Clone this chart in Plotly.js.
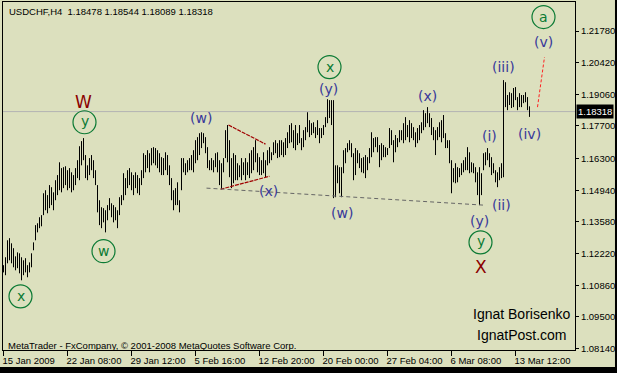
<!DOCTYPE html>
<html><head><meta charset="utf-8">
<script src="https://cdn.plot.ly/plotly-3.0.1.min.js"></script>
<style>html,body{margin:0;padding:0;background:#dce0be;}#chart{width:617px;height:373px;}</style>
</head><body><div id="chart"></div>
<script>
// ---- data (USDCHF H4, one value per bar) ----
const barHigh = [
1.1172,1.1206,1.1279,1.1288,1.1266,1.1245,1.1210,1.1227,1.1223,1.1206,
1.1193,1.1202,1.1172,1.1184,1.1223,1.1270,1.1344,1.1352,1.1378,1.1387,
1.1481,1.1494,1.1473,1.1516,1.1507,1.1485,1.1537,1.1559,1.1614,1.1589,
1.1593,1.1597,1.1580,1.1589,1.1571,1.1559,1.1589,1.1623,1.1683,1.1705,
1.1718,1.1645,1.1601,1.1632,1.1645,1.1623,1.1580,1.1516,1.1451,1.1421,
1.1417,1.1408,1.1430,1.1460,1.1438,1.1430,1.1421,1.1408,1.1464,1.1473,
1.1567,1.1546,1.1580,1.1589,1.1571,1.1559,1.1571,1.1559,1.1546,1.1580,
1.1653,1.1645,1.1666,1.1653,1.1675,1.1679,1.1675,1.1666,1.1653,1.1636,
1.1632,1.1657,1.1645,1.1601,1.1546,1.1494,1.1503,1.1528,1.1451,1.1632,
1.1632,1.1610,1.1623,1.1632,1.1645,1.1666,1.1709,1.1722,1.1739,1.1743,
1.1739,1.1722,1.1679,1.1623,1.1632,1.1623,1.1653,1.1657,1.1623,1.1610,
1.1632,1.1752,1.1774,1.1709,1.1632,1.1653,1.1645,1.1610,1.1601,1.1632,
1.1614,1.1632,1.1614,1.1653,1.1666,1.1679,1.1709,1.1653,1.1636,1.1623,
1.1657,1.1623,1.1666,1.1679,1.1657,1.1700,1.1709,1.1696,1.1709,1.1709,
1.1700,1.1718,1.1743,1.1774,1.1782,1.1752,1.1774,1.1739,1.1774,1.1718,
1.1752,1.1765,1.1829,1.1795,1.1782,1.1786,1.1765,1.1795,1.1761,1.1761,
1.1774,1.1808,1.1885,1.1881,1.1881,1.1881,1.1601,1.1601,1.1593,1.1593,
1.1666,1.1675,1.1696,1.1709,1.1696,1.1653,1.1675,1.1666,1.1653,1.1632,
1.1636,1.1645,1.1636,1.1675,1.1743,1.1718,1.1722,1.1722,1.1688,1.1696,
1.1688,1.1679,1.1675,1.1761,1.1752,1.1709,1.1731,1.1718,1.1752,1.1752,
1.1782,1.1808,1.1774,1.1795,1.1782,1.1765,1.1743,1.1761,1.1774,1.1786,
1.1838,1.1825,1.1851,1.1825,1.1804,1.1765,1.1752,1.1765,1.1786,1.1795,
1.1817,1.1739,1.1709,1.1709,1.1623,1.1589,1.1610,1.1593,1.1589,1.1610,
1.1623,1.1636,1.1679,1.1657,1.1614,1.1610,1.1593,1.1571,1.1593,1.1567,
1.1653,1.1657,1.1675,1.1653,1.1636,1.1610,1.1580,1.1571,1.1593,1.1610,
1.1967,1.1958,1.1903,1.1915,1.1911,1.1933,1.1937,1.1894,1.1911,1.1903,
1.1903,1.1915,1.1894,1.18544];
const barLow = [
1.1141,1.1129,1.1180,1.1193,1.1180,1.1163,1.1150,1.1159,1.1137,1.1107,
1.1129,1.1141,1.1120,1.1141,1.1163,1.1236,1.1279,1.1313,1.1331,1.1339,
1.1387,1.1408,1.1395,1.1417,1.1430,1.1408,1.1451,1.1473,1.1494,1.1485,
1.1503,1.1516,1.1494,1.1503,1.1485,1.1494,1.1516,1.1546,1.1537,1.1601,
1.1623,1.1546,1.1537,1.1559,1.1580,1.1546,1.1516,1.1399,1.1344,1.1331,
1.1356,1.1313,1.1365,1.1408,1.1378,1.1356,1.1365,1.1331,1.1387,1.1430,
1.1451,1.1473,1.1503,1.1516,1.1494,1.1473,1.1503,1.1481,1.1473,1.1516,
1.1546,1.1571,1.1589,1.1571,1.1601,1.1610,1.1601,1.1589,1.1571,1.1559,
1.1559,1.1580,1.1559,1.1516,1.1451,1.1408,1.1430,1.1430,1.1399,1.1494,
1.1571,1.1559,1.1571,1.1580,1.1580,1.1571,1.1610,1.1623,1.1645,1.1675,
1.1696,1.1653,1.1589,1.1580,1.1580,1.1571,1.1593,1.1571,1.1516,1.1498,
1.1571,1.1632,1.1614,1.1550,1.1503,1.1524,1.1537,1.1537,1.1550,1.1537,
1.1559,1.1537,1.1559,1.1546,1.1567,1.1580,1.1614,1.1571,1.1559,1.1559,
1.1567,1.1550,1.1601,1.1610,1.1623,1.1645,1.1653,1.1632,1.1636,1.1645,
1.1636,1.1645,1.1675,1.1696,1.1700,1.1675,1.1666,1.1688,1.1696,1.1666,
1.1679,1.1709,1.1743,1.1722,1.1731,1.1739,1.1718,1.1731,1.1696,1.1718,
1.1731,1.1765,1.1782,1.1804,1.1774,1.1460,1.1464,1.1524,1.1481,1.1464,
1.1567,1.1610,1.1657,1.1666,1.1636,1.1537,1.1559,1.1610,1.1589,1.1571,
1.1567,1.1546,1.1580,1.1610,1.1636,1.1657,1.1679,1.1657,1.1593,1.1623,
1.1636,1.1636,1.1645,1.1675,1.1688,1.1614,1.1657,1.1679,1.1700,1.1709,
1.1696,1.1709,1.1722,1.1700,1.1718,1.1709,1.1679,1.1696,1.1709,1.1739,
1.1752,1.1765,1.1782,1.1765,1.1731,1.1709,1.1645,1.1709,1.1722,1.1700,
1.1718,1.1675,1.1675,1.1610,1.1481,1.1528,1.1524,1.1528,1.1550,1.1559,
1.1571,1.1580,1.1580,1.1567,1.1571,1.1567,1.1528,1.1473,1.1430,1.1473,
1.1580,1.1601,1.1623,1.1593,1.1559,1.1567,1.1528,1.1507,1.1537,1.1546,
1.1550,1.1851,1.1838,1.1860,1.1847,1.1851,1.1881,1.1838,1.1851,1.1851,
1.1868,1.1872,1.1838,1.18089];

const symbolName = "USDCHF,H4";
const lastOpen = 1.18478, lastHigh = 1.18544, lastLow = 1.18089, lastClose = 1.18318;

const timeTickIndex = [0,32,64,96,128,160,192,224,256];
const timeTickLabels = ["15 Jan 2009","22 Jan 08:00","29 Jan 12:00","5 Feb 16:00","12 Feb 20:00","20 Feb 00:00","27 Feb 04:00","6 Mar 08:00","13 Mar 12:00"];
const priceTicks = [1.21780,1.20420,1.19060,1.17700,1.16300,1.14940,1.13580,1.12220,1.10860,1.09500,1.08140];
const priceTickLabels = ["1.21780","1.20420","1.19060","1.17700","1.16300","1.14940","1.13580","1.12220","1.10860","1.09500","1.08140"];

// wave labels: text, bar index, price, kind (circle / minor / major)
const waveText  = ["x","w","W","y","(w)","(x)","x","(y)","(w)","(x)","(y)","y","X","(i)","(ii)","(iii)","(iv)","(v)","a"];
const waveIndex = [8.5,50,40,40.5,98.5,132.5,163,162.5,169,212,238,238.5,238.5,243,249,250,263,270,270];
const wavePrice = [1.1038,1.1232,1.1872,1.1786,1.1804,1.1490,1.2023,1.1928,1.1395,1.1898,1.1361,1.1270,1.1163,1.1726,1.1430,1.2023,1.1735,1.2130,1.2238];
const waveKind  = ["circle","circle","major","circle","minor","minor","circle","minor","minor","minor","minor","circle","major","minor","minor","minor","minor","minor","circle"];

// analyst lines: [index0,index1], [price0,price1]
const triUpperIdx = [112.5,131], triUpperPx = [1.1774,1.1692];
const triLowerIdx = [108.5,133], triLowerPx = [1.1498,1.1554];
const supportIdx = [101.5,240], supportPx = [1.1503,1.1430];
const projIdx = [267,270.5], projPx = [1.1851,1.2066];

// ---- build ----
const BG = "#dce0be";
const FONT = "Liberation Sans, Arial, sans-serif";
const WAVEFONT = "DejaVu Sans, Verdana, sans-serif";
const GREEN = "#0b7a34", BLUE = "#38389a", DARKRED = "#8b0000";

const xs = [], ys = [];
for (let i = 0; i < barHigh.length; i++) {
  xs.push(i, i, null);
  ys.push(barLow[i], barHigh[i], null);
}
const traces = [{
  type: "scatter", mode: "lines", x: xs, y: ys,
  line: {color: "#000000", width: 1}, hoverinfo: "skip", connectgaps: false
}];

const shapes = [
  {type:"line", xref:"paper", yref:"y", x0:0, x1:1, y0:lastClose, y1:lastClose, line:{color:"#b4b4b4", width:1}, layer:"below"},
  {type:"line", xref:"x", yref:"y", x0:triUpperIdx[0], x1:triUpperIdx[1], y0:triUpperPx[0], y1:triUpperPx[1], line:{color:"#a00000", width:1.2, dash:"4px,1px"}},
  {type:"line", xref:"x", yref:"y", x0:triLowerIdx[0], x1:triLowerIdx[1], y0:triLowerPx[0], y1:triLowerPx[1], line:{color:"#a00000", width:1.2, dash:"4px,1px"}},
  {type:"line", xref:"x", yref:"y", x0:supportIdx[0], x1:supportIdx[1], y0:supportPx[0], y1:supportPx[1], line:{color:"#666666", width:1, dash:"4px,3px"}},
  {type:"line", xref:"x", yref:"y", x0:projIdx[0], x1:projIdx[1], y0:projPx[0], y1:projPx[1], line:{color:"#ff2020", width:1, dash:"3px,2px"}},
  // outer black frame bands (bottom and right)
  {type:"rect", xref:"paper", yref:"paper", x0:-0.02, x1:1.1, y0:-0.1, y1:-0.0489, fillcolor:"#000000", line:{width:0}},
  {type:"rect", xref:"paper", yref:"paper", x0:1.0699, x1:1.1, y0:-0.1, y1:1.02, fillcolor:"#000000", line:{width:0}}
];

const annotations = [];
for (let k = 0; k < waveText.length; k++) {
  const kind = waveKind[k];
  if (kind === "circle") {
    shapes.push({type:"circle", xref:"x", yref:"y", xsizemode:"pixel", ysizemode:"pixel",
      xanchor:waveIndex[k], yanchor:wavePrice[k], x0:-11.5, x1:11.5, y0:-11.5, y1:11.5,
      line:{color:GREEN, width:1.2}});
    annotations.push({x:waveIndex[k], y:wavePrice[k], xref:"x", yref:"y", text:waveText[k], showarrow:false,
      xanchor:"center", yanchor:"middle", yshift: waveText[k]==="y" ? 1 : 0,
      font:{family:WAVEFONT, size:14, color:GREEN}});
  } else {
    annotations.push({x:waveIndex[k], y:wavePrice[k], xref:"x", yref:"y", text:waveText[k], showarrow:false,
      xanchor:"center", yanchor:"middle",
      font:{family:WAVEFONT, size: kind==="major" ? 17 : 14, color: kind==="major" ? DARKRED : BLUE}});
  }
}
annotations.push(
  {xref:"paper", yref:"paper", x:0.007, y:0.974, xanchor:"left", yanchor:"middle", showarrow:false,
   text: symbolName + "  " + [lastOpen,lastHigh,lastLow,lastClose].map(v=>v.toFixed(5)).join(" "),
   font:{family:FONT, size:9.5, color:"#000000"}},
  {xref:"paper", yref:"paper", x:0.005, y:0.0129, xanchor:"left", yanchor:"middle", showarrow:false,
   text:"MetaTrader - FxCompany, © 2001-2008 MetaQuotes Software Corp.",
   font:{family:FONT, size:9.5, color:"#000000"}},
  {xref:"paper", yref:"paper", x:0.9073, y:0.1034, xanchor:"center", yanchor:"middle", showarrow:false,
   text:"Ignat Borisenko", font:{family:FONT, size:14, color:"#000000"}},
  {xref:"paper", yref:"paper", x:0.9073, y:0.0431, xanchor:"center", yanchor:"middle", showarrow:false,
   text:"IgnatPost.com", font:{family:FONT, size:14, color:"#000000"}},
  {xref:"paper", yref:"y", x:1, y:lastClose, xanchor:"left", yanchor:"middle", xshift:1, showarrow:false,
   text:lastClose.toFixed(5), bgcolor:"#000000", borderpad:1, font:{family:FONT, size:9.5, color:"#ffffff"}}
);

const layout = {
  width:617, height:373,
  margin:{l:3, r:42, t:2, b:23, pad:0},
  paper_bgcolor:BG, plot_bgcolor:BG, showlegend:false,
  xaxis:{range:[-0.25,285.75], tickmode:"array", tickvals:timeTickIndex, ticktext:timeTickLabels,
    ticks:"outside", ticklen:5, tickcolor:"#000", tickwidth:1, ticklabelposition:"outside right", tickangle:0,
    ticklabelstandoff:2, ticklabelshift:-2,
    showline:true, linecolor:"#000", linewidth:1, mirror:true, showgrid:false, zeroline:false,
    tickfont:{family:FONT, size:9.5, color:"#000"}, fixedrange:true},
  yaxis:{side:"right", range:[1.08076,1.23026], tickmode:"array", tickvals:priceTicks, ticktext:priceTickLabels,
    ticks:"outside", ticklen:3, tickcolor:"#000", tickwidth:1,
    showline:true, linecolor:"#000", linewidth:1, mirror:true, showgrid:false, zeroline:false,
    tickfont:{family:FONT, size:9.5, color:"#000"}, fixedrange:true},
  shapes:shapes, annotations:annotations, hovermode:false
};
Plotly.newPlot("chart", traces, layout, {staticPlot:true, displayModeBar:false});
</script></body></html>
